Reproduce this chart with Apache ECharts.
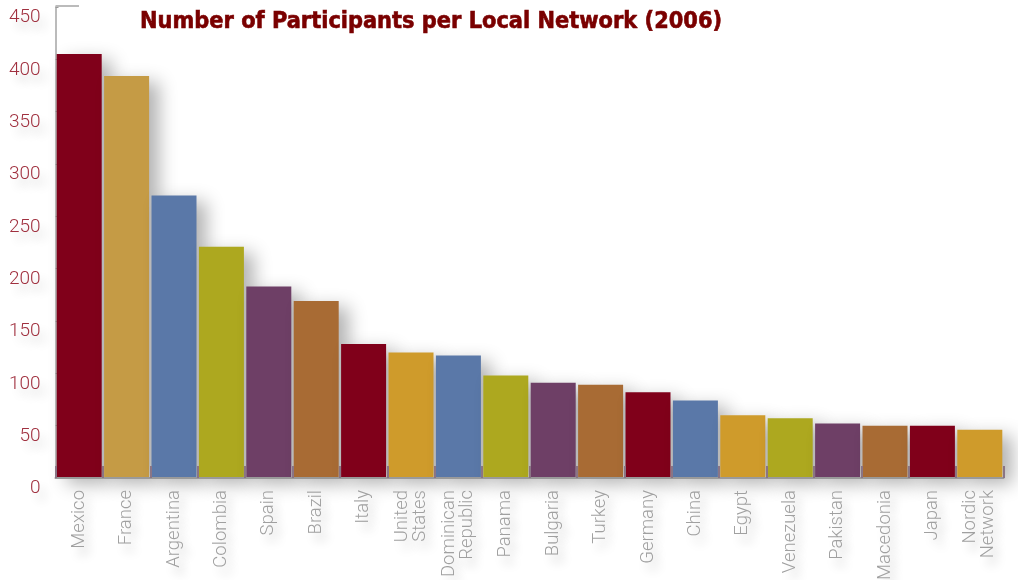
<!DOCTYPE html>
<html>
<head>
<meta charset="utf-8">
<script src="https://cdn.jsdelivr.net/npm/echarts@6/dist/echarts.min.js"></script>
<style>
html,body{margin:0;padding:0;background:#fff;}
#chart{width:1018px;height:580px;}
</style>
</head>
<body>
<div id="chart"></div>
<script>
const categories = ['Mexico','France','Argentina','Colombia','Spain','Brazil','Italy','United\nStates','Dominican\nRepublic','Panama','Bulgaria','Turkey','Germany','China','Egypt','Venezuela','Pakistan','Macedonia','Japan','Nordic\nNetwork'];
const participants = [405,384,270,221,183,169,128,120,117,98,91,89,82,74,60,57,52,50,50,46];
const barColors = ['#80001A','#C59B45','#5A78A8','#ADA81F','#6E3F66','#A86B34','#80001A','#CF9B2B','#5A78A8','#ADA81F','#6E3F66','#A86B34','#80001A','#5A78A8','#CF9B2B','#ADA81F','#6E3F66','#A86B34','#80001A','#CF9B2B'];
const yMin = 0, yMax = 450, yStep = 50;
const titleText = 'Number of Participants per Local Network (2006)';

const chart = echarts.init(document.getElementById('chart'));
chart.setOption({
  backgroundColor: '#fff',
  animation: false,
  title: {
    text: titleText,
    left: 135, top: 5,
    textStyle: { fontFamily: 'DejaVu Sans Condensed', fontWeight: 'bold', fontSize: 23.3, color: '#7A0000', textBorderColor: '#7A0000', textBorderWidth: 0.6 }
  },
  grid: { left: 55.5, right: 14.5, top: 7, bottom: 102, containLabel: false, outerBoundsMode: 'none' },
  xAxis: {
    type: 'category',
    data: categories,
    boundaryGap: true,
    axisLine: { lineStyle: { color: '#9a9a9a', width: 2 } },
    axisTick: { show: true, inside: true, length: 12, lineStyle: { color: '#8a7585', width: 2 } },
    axisLabel: {
      rotate: 90, margin: 12, interval: 0,
      fontFamily: 'Roboto', fontWeight: 300, fontSize: 18.5, lineHeight: 18, color: '#a0a0a0',
      textShadowColor: 'rgba(0,0,0,0.22)', textShadowBlur: 10, textShadowOffsetX: 6, textShadowOffsetY: 8
    },
    z: 5
  },
  yAxis: {
    type: 'value',
    min: yMin, max: yMax, interval: yStep,
    splitLine: { show: false },
    axisLine: { show: true, lineStyle: { color: '#bbbbbb', width: 2 } },
    axisTick: { show: true, inside: true, length: 3, lineStyle: { color: '#999' } },
    axisLabel: {
      verticalAlign: 'top', margin: 15, padding: [1, 0, 0, 0],
      fontFamily: 'Roboto', fontWeight: 300, fontSize: 19, color: '#A0303F',
      textShadowColor: 'rgba(0,0,0,0.2)', textShadowBlur: 10, textShadowOffsetX: 6, textShadowOffsetY: 8
    }
  },
  graphic: [{
    type: 'line', shape: { x1: 55.5, y1: 6, x2: 79, y2: 6 },
    style: { stroke: '#bbbbbb', lineWidth: 2 }
  }],
  series: [{
    type: 'bar',
    barWidth: 45,
    data: participants.map((v, i) => ({ value: v, itemStyle: { color: barColors[i] } })),
    itemStyle: {
      shadowColor: 'rgba(0,0,0,0.3)', shadowBlur: 18, shadowOffsetX: 10, shadowOffsetY: 6
    }
  }]
});
</script>
</body>
</html>
